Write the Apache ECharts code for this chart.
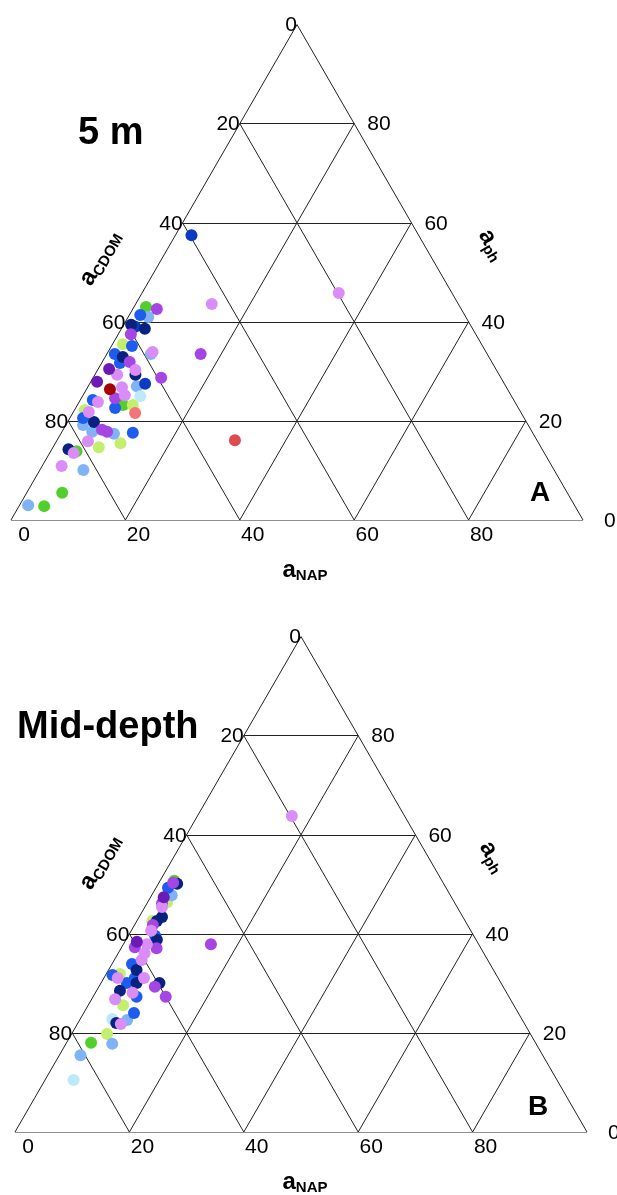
<!doctype html>
<html lang="en">
<head>
<meta charset="UTF-8">
<title>Ternary absorption budget</title>
<script src="https://cdn.jsdelivr.net/npm/echarts@6/dist/echarts.min.js"></script>
<style>
    html, body { margin: 0; padding: 0; background: #fff; }
    #chart { width: 617px; height: 1195px; }
</style>
</head>
<body>
<div id="chart"></div>
<script type="text/javascript">
    // tick values on each side (%)
    var ticks = [0, 20, 40, 60, 80];
    var gridSteps = [20, 40, 60, 80];

    // points are [aNAP, aph] in %, aCDOM = 100 - aNAP - aph
    // panel A, 5 m
    var a_green = [[2.1, 43.0], [8.0, 23.2], [4.5, 13.9], [6.2, 5.5], [4.4, 2.8]];
    var a_lightgreen = [[1.8, 35.5], [9.7, 23.2], [1.8, 22.2], [8.0, 14.7], [11.4, 15.5]];
    var a_lightblue = [[3.5, 41.0], [7.7, 33.5], [8.5, 27.0], [3.0, 19.2], [5.3, 17.8], [9.3, 17.4], [7.6, 10.1], [1.5, 3.0]];
    var a_paleblue = [[10.1, 25.0]];
    var a_blue = [[1.9, 41.4], [3.6, 35.1], [1.4, 33.5], [3.2, 31.7], [2.2, 24.2], [6.9, 22.6], [2.3, 20.6], [12.5, 17.6]];
    var a_medblue = [[2.2, 39.0], [9.7, 27.5], [2.8, 57.5]];
    var a_navy = [[1.3, 39.4], [4.1, 38.6], [3.1, 32.9], [7.1, 29.3], [4.6, 19.8], [2.9, 14.3]];
    var a_purple = [[4.2, 42.6], [2.2, 37.5], [4.8, 31.9], [11.9, 28.7], [5.9, 24.6], [6.8, 18.2], [7.9, 17.8], [16.4, 33.5]];
    var a_lightpurple = [[7.8, 33.9], [6.6, 30.3], [3.9, 29.3], [6.0, 26.8], [7.3, 25.2], [3.3, 23.8], [2.7, 21.8], [5.5, 15.9], [4.2, 13.5], [3.4, 10.9], [13.3, 43.6], [34.4, 45.8]];
    var a_darkpurple = [[1.9, 30.5], [1.1, 27.9]];
    var a_red = [[31.1, 16.1]];
    var a_darkred = [[4.1, 26.4]];
    var a_salmon = [[10.9, 21.6]];

    // panel B, mid-depth
    var b_green = [[2.5, 50.7], [4.3, 18.0]];
    var b_lightgreen = [[3.4, 46.4], [2.7, 42.6], [2.4, 31.9], [6.1, 25.6], [6.2, 19.8]];
    var b_lightblue = [[3.5, 47.8], [8.3, 22.6], [8.1, 17.8], [3.7, 15.5]];
    var b_paleblue = [[5.6, 22.8], [5.0, 10.5]];
    var b_blue = [[2.1, 49.3], [4.7, 39.6], [3.5, 33.9], [1.2, 31.7], [4.5, 30.1], [5.4, 31.1], [7.6, 27.3], [8.8, 24.0]];
    var b_navy = [[3.3, 50.1], [4.0, 43.4], [3.5, 42.6], [5.4, 38.8], [4.9, 32.7], [6.2, 30.1], [10.2, 30.1], [4.1, 28.5], [6.7, 22.0]];
    var b_purple = [[2.5, 50.3], [2.6, 46.2], [3.2, 41.8], [2.3, 37.3], [6.2, 37.1], [15.3, 37.9], [9.8, 29.3], [12.7, 27.3]];
    var b_lightpurple = [[3.0, 45.4], [3.5, 40.6], [4.1, 37.9], [4.6, 36.1], [4.8, 34.7], [2.4, 31.1], [7.0, 31.1], [6.5, 28.1], [4.1, 26.8], [7.6, 21.8], [16.5, 63.8]];
    var b_darkpurple = [[2.3, 47.4], [2.1, 38.4]];

    var colors = {
        green: '#52cf2c', lightgreen: '#c4ef6c', lightblue: '#80b3f6', paleblue: '#bde9fb',
        blue: '#1e5cf0', medblue: '#0b3bc4', navy: '#08237f', purple: '#a545e3',
        lightpurple: '#da8cf7', darkpurple: '#6b1ab8', red: '#e04b52', darkred: '#a60005', salmon: '#f27478'
    };

    var panelA = [
        ['green', a_green], ['lightgreen', a_lightgreen], ['lightblue', a_lightblue], ['paleblue', a_paleblue],
        ['blue', a_blue], ['medblue', a_medblue], ['navy', a_navy], ['purple', a_purple],
        ['lightpurple', a_lightpurple], ['darkpurple', a_darkpurple], ['red', a_red], ['darkred', a_darkred], ['salmon', a_salmon]
    ];
    var panelB = [
        ['green', b_green], ['lightgreen', b_lightgreen], ['lightblue', b_lightblue], ['paleblue', b_paleblue],
        ['blue', b_blue], ['navy', b_navy], ['purple', b_purple], ['lightpurple', b_lightpurple], ['darkpurple', b_darkpurple]
    ];

    var FONT = 'Liberation Sans, Arial, sans-serif';
    var SIDE = 572, HEIGHT = 495.4;

    // ternary -> cartesian (x = aNAP + aph/2, y = aph)
    function toXY(nap, ph) {
        return [nap + ph / 2, ph];
    }

    function gridLines() {
        var segs = [];
        // outline
        segs.push({coords: [toXY(0, 0), toXY(100, 0)]});
        segs.push({coords: [toXY(0, 0), toXY(0, 100)]});
        segs.push({coords: [toXY(100, 0), toXY(0, 100)]});
        for (var i = 0; i < gridSteps.length; i++) {
            var t = gridSteps[i];
            segs.push({coords: [toXY(0, t), toXY(100 - t, t)]});   // constant aph
            segs.push({coords: [toXY(t, 0), toXY(t, 100 - t)]});   // constant aNAP
            segs.push({coords: [toXY(100 - t, 0), toXY(0, 100 - t)]}); // constant aCDOM
        }
        return segs;
    }

    function tickLabel(text, pos, dist, offset) {
        return {
            show: true, formatter: text, position: pos, distance: dist, offset: offset,
            color: '#000', opacity: 1, fontFamily: FONT, fontSize: 21, fontWeight: 'normal'
        };
    }

    function labelSeries(idx) {
        var left = [], right = [], bottom = [];
        for (var i = 0; i < ticks.length; i++) {
            var v = ticks[i];
            left.push({value: toXY(0, 100 - v), label: tickLabel(String(v), 'left', 0, [0, 1])});
            right.push({value: toXY(100 - v, v), label: tickLabel(String(v), 'right', v === 0 ? 21 : 13, [0, 1])});
            bottom.push({value: toXY(v, 0), label: tickLabel(String(v), 'bottom', 5, [13, 0])});
        }
        var base = {
            type: 'scatter', xAxisIndex: idx, yAxisIndex: idx, symbolSize: 0, silent: true, clip: false, z: 5,
            itemStyle: {color: '#000', opacity: 1}
        };
        return [
            Object.assign({}, base, {data: left}),
            Object.assign({}, base, {data: right}),
            Object.assign({}, base, {data: bottom})
        ];
    }

    function pointSeries(panel, idx) {
        var out = [];
        for (var i = 0; i < panel.length; i++) {
            var name = panel[i][0], pts = panel[i][1];
            out.push({
                type: 'scatter', name: name, xAxisIndex: idx, yAxisIndex: idx,
                symbolSize: 12, clip: false, z: 10,
                itemStyle: {color: colors[name], opacity: 1},
                data: pts.map(function (p) { return toXY(p[0], p[1]); })
            });
        }
        return out;
    }

    var chart = echarts.init(document.getElementById('chart'));

    var series = [];
    [0, 1].forEach(function (idx) {
        series.push({
            type: 'lines', coordinateSystem: 'cartesian2d', xAxisIndex: idx, yAxisIndex: idx,
            silent: true, z: 1,
            lineStyle: {color: '#222', width: 1, opacity: 1},
            data: gridLines()
        });
        series = series.concat(labelSeries(idx));
    });
    series = series.concat(pointSeries(panelA, 0));
    series = series.concat(pointSeries(panelB, 1));

    function axisLabel(x, y, rot, sub) {
        return {
            type: 'text', x: x, y: y, rotation: rot,
            style: {
                text: '{a|a}{s|' + sub + '}',
                align: 'center', verticalAlign: 'middle',
                rich: {
                    a: {fontFamily: FONT, fontWeight: 'bold', fontSize: 24, fill: '#000'},
                    s: {fontFamily: FONT, fontWeight: 'bold', fontSize: 15, fill: '#000', padding: [12, 0, 0, 0]}
                }
            }
        };
    }

    function title(text, x, y, size, align) {
        return {
            type: 'text', x: x, y: y,
            style: {text: text, fontFamily: FONT, fontWeight: 'bold', fontSize: size, fill: '#000', align: align, verticalAlign: 'middle'}
        };
    }

    var option = {
        animation: false,
        grid: [
            {left: 11, top: 520 - HEIGHT, width: SIDE, height: HEIGHT, show: false},
            {left: 15, top: 1132 - HEIGHT, width: SIDE, height: HEIGHT, show: false}
        ],
        xAxis: [
            {type: 'value', gridIndex: 0, min: 0, max: 100, show: false},
            {type: 'value', gridIndex: 1, min: 0, max: 100, show: false}
        ],
        yAxis: [
            {type: 'value', gridIndex: 0, min: 0, max: 100, show: false},
            {type: 'value', gridIndex: 1, min: 0, max: 100, show: false}
        ],
        graphic: [
            title('5 m', 78, 134, 38, 'left'),
            title('Mid-depth', 17, 728, 38, 'left'),
            title('A', 540, 493, 28, 'center'),
            title('B', 538, 1107, 28, 'center'),
            axisLabel(100, 258, Math.PI / 3, 'CDOM'),
            axisLabel(492, 245, -Math.PI / 3, 'ph'),
            axisLabel(305, 570, 0, 'NAP'),
            axisLabel(100, 862, Math.PI / 3, 'CDOM'),
            axisLabel(493, 857, -Math.PI / 3, 'ph'),
            axisLabel(305, 1182, 0, 'NAP')
        ],
        series: series
    };
    chart.setOption(option);
</script>
</body>
</html>
